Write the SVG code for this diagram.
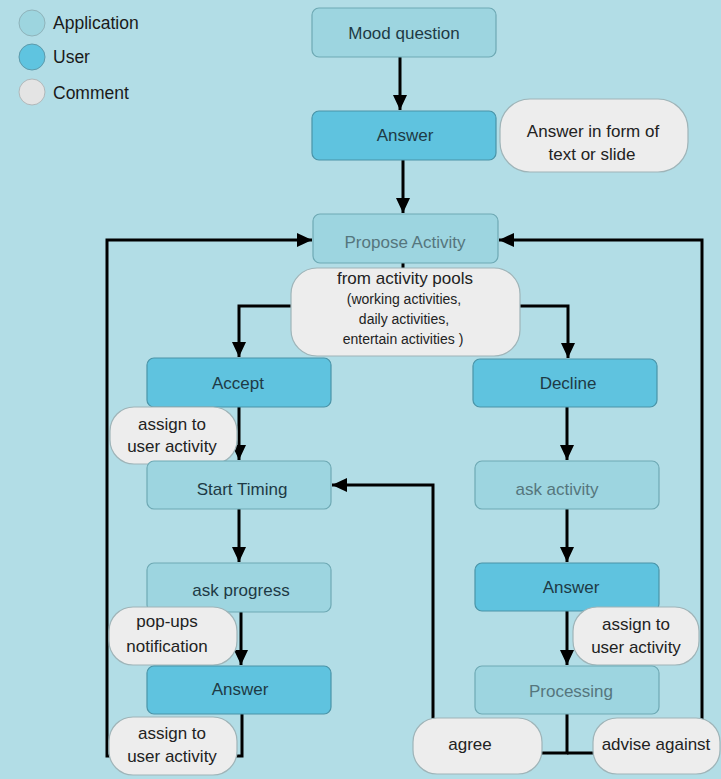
<svg xmlns="http://www.w3.org/2000/svg" width="721" height="779" viewBox="0 0 721 779">
<defs>
<marker id="ah" markerUnits="userSpaceOnUse" markerWidth="16" markerHeight="14" refX="15" refY="7" orient="auto">
<path d="M0,0 L15,7 L0,14 z" fill="#000"/>
</marker>
<style>
.app{fill:#9dd5e0;stroke:#6ea9b4;stroke-width:1.2}
.usr{fill:#5fc3df;stroke:#4a94a8;stroke-width:1.2}
.cmt{fill:#ededed;stroke:#9fb4b8;stroke-width:1.2}
.t{font-family:"Liberation Sans",Arial,sans-serif;font-size:17px;fill:#1e3a45;text-anchor:middle}
.g{fill:#55767d}
.c{font-family:"Liberation Sans",Arial,sans-serif;font-size:17px;fill:#222;text-anchor:middle}
.s{font-size:14px}
.lg{font-family:"Liberation Sans",Arial,sans-serif;font-size:17.5px;fill:#1a1a1a}
.ln{fill:none;stroke:#000;stroke-width:3}
</style>
</defs>
<rect width="721" height="779" fill="#b2dde6"/>
<g id="legend">
<circle cx="32" cy="23" r="13" fill="#9dd5df" stroke="#8fb3ba"/>
<circle cx="32" cy="57" r="13" fill="#5fc4e0" stroke="#5d9aab"/>
<circle cx="32" cy="92" r="13" fill="#e4e4e4" stroke="#b0b8ba"/>
<text class="lg" x="53" y="29">Application</text>
<text class="lg" x="53" y="63">User</text>
<text class="lg" x="53" y="99">Comment</text>
</g>
<g id="connectors">
<path class="ln" d="M400,57 V110" marker-end="url(#ah)"/>
<path class="ln" d="M403,160 V213" marker-end="url(#ah)"/>
<path class="ln" d="M403,263 V270"/>
<path class="ln" d="M295,306 H239 V357" marker-end="url(#ah)"/>
<path class="ln" d="M515,306 H568 V358" marker-end="url(#ah)"/>
<path class="ln" d="M239,407 V460" marker-end="url(#ah)"/>
<path class="ln" d="M239,509 V562" marker-end="url(#ah)"/>
<path class="ln" d="M241,612 V665" marker-end="url(#ah)"/>
<path class="ln" d="M567,407 V460" marker-end="url(#ah)"/>
<path class="ln" d="M567,509 V562" marker-end="url(#ah)"/>
<path class="ln" d="M567,611 V665" marker-end="url(#ah)"/>
<path class="ln" d="M242,714 V756 H107 V240 H312" marker-end="url(#ah)"/>
<path class="ln" d="M567,714 V753 H433 V485 H332" marker-end="url(#ah)"/>
<path class="ln" d="M567,753 H702 V240 H499" marker-end="url(#ah)"/>
</g>
<g id="mood-question"><rect class="app" x="312" y="8" width="184" height="49" rx="7"/><text class="t" x="404" y="39">Mood question</text></g>
<g id="answer-1"><rect class="usr" x="312" y="111" width="184" height="49" rx="7"/><text class="t" x="405" y="141">Answer</text></g>
<g id="comment-answer-form"><rect class="cmt" x="500" y="99" width="188" height="73" rx="30"/><text class="c" x="593" y="137">Answer in form of</text><text class="c" x="592" y="160">text or slide</text></g>
<g id="propose-activity"><rect class="app" x="313" y="214" width="185" height="49" rx="7"/><text class="t g" x="405" y="248">Propose Activity</text></g>
<g id="comment-activity-pools"><rect class="cmt" x="291" y="268" width="229" height="88" rx="26"/><text class="c" x="405" y="284">from activity pools</text><text class="c s" x="404" y="304">(working activities,</text><text class="c s" x="404" y="324">daily activities,</text><text class="c s" x="403" y="344">entertain activities )</text></g>
<g id="accept"><rect class="usr" x="147" y="358" width="184" height="49" rx="7"/><text class="t" x="238" y="389">Accept</text></g>
<g id="decline"><rect class="usr" x="473" y="359" width="184" height="48" rx="7"/><text class="t" x="568" y="389">Decline</text></g>
<g id="comment-assign-1"><rect class="cmt" x="110" y="407" width="127" height="57" rx="24"/><text class="c" x="172" y="430">assign to</text><text class="c" x="172" y="452">user activity</text></g>
<g id="start-timing"><rect class="app" x="147" y="461" width="184" height="48" rx="7"/><text class="t" x="242" y="495">Start Timing</text></g>
<g id="ask-activity"><rect class="app" x="475" y="461" width="184" height="48" rx="7"/><text class="t g" x="557" y="495">ask activity</text></g>
<g id="ask-progress"><rect class="app" x="147" y="563" width="184" height="49" rx="7"/><text class="t" x="241" y="596">ask progress</text></g>
<g id="answer-2"><rect class="usr" x="475" y="563" width="184" height="48" rx="7"/><text class="t" x="571" y="593">Answer</text></g>
<g id="comment-popups"><rect class="cmt" x="109" y="607" width="128" height="58" rx="24"/><text class="c" x="167" y="627">pop-ups</text><text class="c" x="167" y="652">notification</text></g>
<g id="comment-assign-2"><rect class="cmt" x="573" y="607" width="126" height="58" rx="24"/><text class="c" x="636" y="630">assign to</text><text class="c" x="636" y="653">user activity</text></g>
<g id="answer-3"><rect class="usr" x="147" y="666" width="184" height="48" rx="7"/><text class="t" x="240" y="695">Answer</text></g>
<g id="processing"><rect class="app" x="475" y="666" width="184" height="48" rx="7"/><text class="t g" x="571" y="697">Processing</text></g>
<g id="comment-assign-3"><rect class="cmt" x="109" y="717" width="128" height="58" rx="24"/><text class="c" x="172" y="739">assign to</text><text class="c" x="172" y="762">user activity</text></g>
<g id="comment-agree"><rect class="cmt" x="413" y="718" width="129" height="56" rx="24"/><text class="c" x="470" y="750">agree</text></g>
<g id="comment-advise-against"><rect class="cmt" x="593" y="718" width="127" height="56" rx="24"/><text class="c" x="656" y="750">advise against</text></g>
</svg>
